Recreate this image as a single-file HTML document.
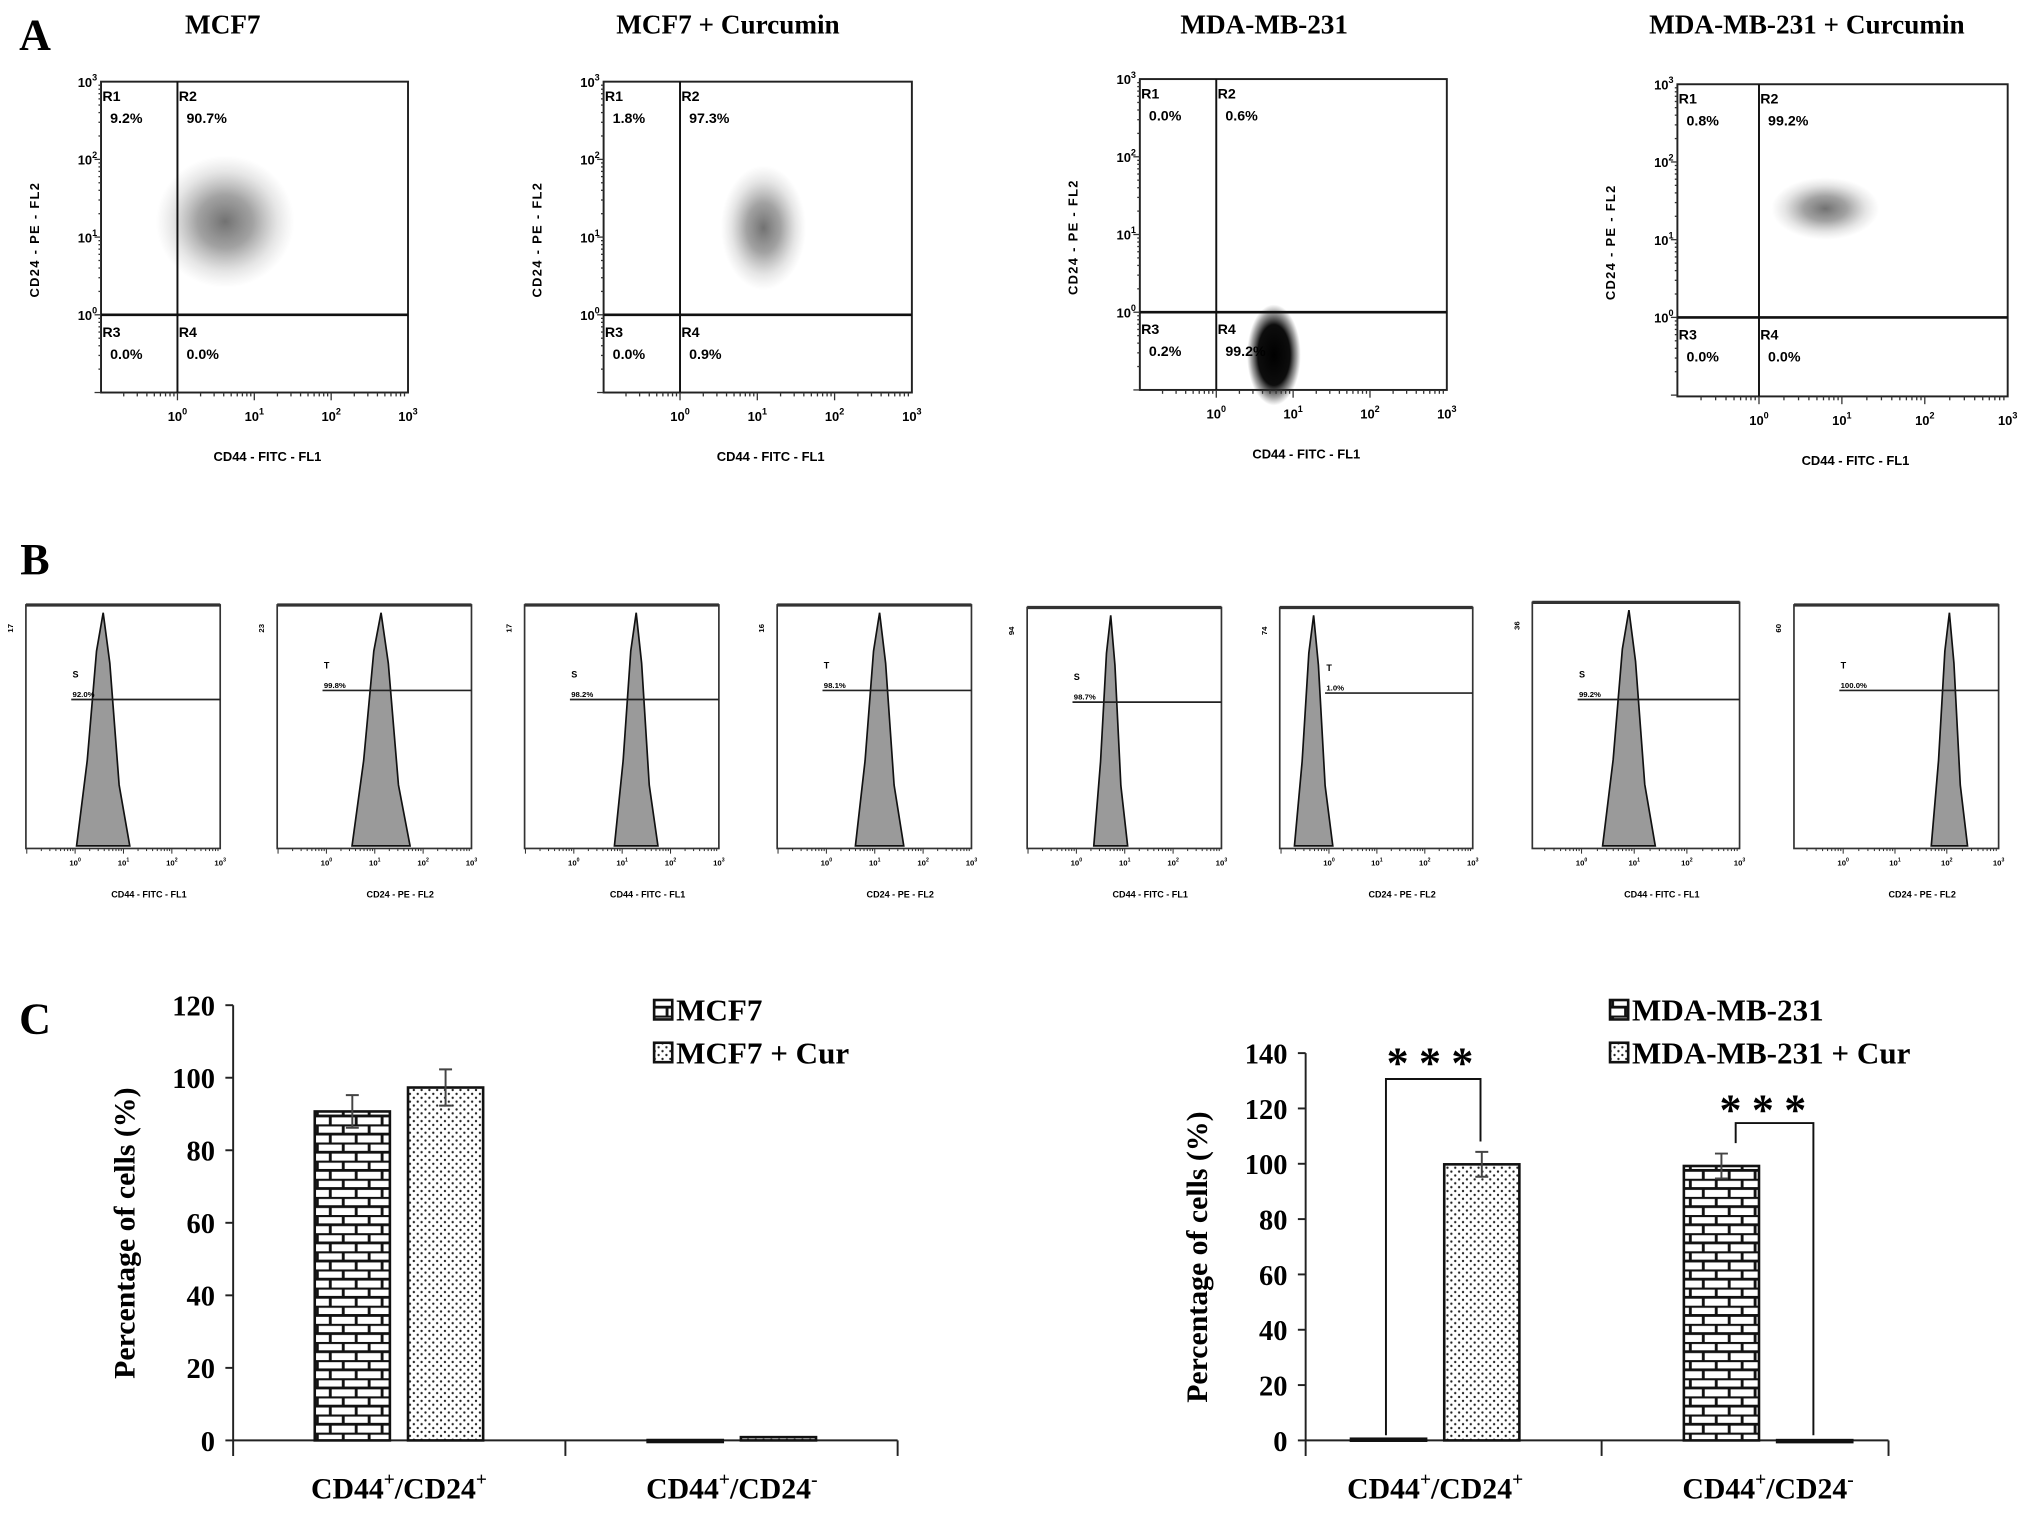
<!DOCTYPE html>
<html><head><meta charset="utf-8"><style>
html,body{margin:0;padding:0;background:#fff}
svg{display:block}
.serif{font-family:"Liberation Serif",serif;font-weight:bold}
.sans{font-family:"Liberation Sans",sans-serif;font-weight:bold}
</style></head><body>
<svg id="fig" width="2031" height="1513" viewBox="0 0 1568 1168" xmlns="http://www.w3.org/2000/svg">
<defs>
<pattern id="brick" width="20" height="14" patternUnits="userSpaceOnUse">
<rect width="20" height="14" fill="#fff"/>
<path d="M0 0.5H20M0 7.5H20M5 0V7M15 7V14" stroke="#111" stroke-width="2.2" fill="none"/>
</pattern>
<pattern id="dots" width="6" height="6" patternUnits="userSpaceOnUse">
<rect width="6" height="6" fill="#fff"/>
<circle cx="1.5" cy="1.5" r="0.9" fill="#222"/><circle cx="4.5" cy="4.5" r="0.9" fill="#222"/>
</pattern>
<pattern id="speck" width="5" height="5" patternUnits="userSpaceOnUse">
<rect width="5" height="5" fill="#fff" fill-opacity="0.35"/>
</pattern>
<radialGradient id="cloud"><stop offset="0" stop-color="#000" stop-opacity="0.85"/><stop offset="0.4" stop-color="#111" stop-opacity="0.6"/><stop offset="0.75" stop-color="#333" stop-opacity="0.2"/><stop offset="1" stop-color="#555" stop-opacity="0"/></radialGradient>
<radialGradient id="cloudDense"><stop offset="0" stop-color="#000" stop-opacity="1"/><stop offset="0.6" stop-color="#000" stop-opacity="0.95"/><stop offset="0.85" stop-color="#222" stop-opacity="0.4"/><stop offset="1" stop-color="#444" stop-opacity="0"/></radialGradient>
</defs>
<g id="root"></g>
</svg>
<script>
// ---------- data ----------
const scatterTitles = ["MCF7","MCF7 + Curcumin","MDA-MB-231","MDA-MB-231 + Curcumin"];
const scatterQuadPct = [["9.2%","90.7%","0.0%","0.0%"],["1.8%","97.3%","0.0%","0.9%"],["0.0%","0.6%","0.2%","99.2%"],["0.8%","99.2%","0.0%","0.0%"]];
const cloudCenterX = [0.62, 1.08, 0.75, 0.8];   // log10 units
const cloudCenterY = [1.2, 1.12, -0.55, 1.4];
const cloudSpreadX = [0.9, 0.55, 0.35, 0.65];
const cloudSpreadY = [0.85, 0.8, 0.65, 0.4];
const histPeak = [0.58, 1.13, 1.29, 1.1, 0.71, -0.32, 0.9, 2.05];
const histWidth = [0.55, 0.6, 0.45, 0.5, 0.35, 0.4, 0.5, 0.35];
const histLabel = ["S","T","S","T","S","T","S","T"];
const histPct = ["92.0%","99.8%","98.2%","98.1%","98.7%","1.0%","99.2%","100.0%"];
const histAxis = ["CD44 - FITC - FL1","CD24 - PE - FL2","CD44 - FITC - FL1","CD24 - PE - FL2","CD44 - FITC - FL1","CD24 - PE - FL2","CD44 - FITC - FL1","CD24 - PE - FL2"];
const histMaxLbl = ["17","23","17","16","94","74","36","60"];
const barCategories = ["CD44+/CD24+","CD44+/CD24-"];
const leftSeriesNames = ["MCF7","MCF7 + Cur"];
const leftUntreated = [90.7, 0.1];
const leftTreated = [97.3, 0.9];
const leftErr = [4.5, 5, 0, 0];
const leftTicks = [0,20,40,60,80,100,120];
const rightSeriesNames = ["MDA-MB-231","MDA-MB-231 + Cur"];
const rightUntreated = [0.6, 99.2];
const rightTreated = [99.8, 0.1];
const rightErr = [0, 4.5, 4.5, 0];
const rightTicks = [0,20,40,60,80,100,120,140];

// ---------- helpers ----------
const NS="http://www.w3.org/2000/svg";
const root=document.getElementById('root');
function el(tag,attrs,parent,text){const e=document.createElementNS(NS,tag);for(const k in attrs)e.setAttribute(k,attrs[k]);if(text!==undefined)e.textContent=text;(parent||root).appendChild(e);return e;}
function grp(name,parent){const g=el('g',{},parent);return g;}

// panel letters
[["A",27,38],["B",27,443],["C",27,798]].forEach(p=>{const t=el('text',{x:p[1],y:p[2],'font-size':34,'text-anchor':'middle',class:'serif'},root,p[0]);

});

// ---------- Panel A ----------
const boxes=[[78,63,237,240],[466,63,238,240],[880,61,237,240],[1295,65,255,241]];
const titleX=[172,562,976,1395];
boxes.forEach((b,i)=>{
 const g=grp('scatter-plot-'+(i+1));
 const [L,T,W,H]=b; const gx=L+(i==3?63:59); const gy=T+180;
 const dec=(L+W-gx)/3; const decY=60;
 const sx=v=>gx+v*dec, sy=v=>gy-v*decY;
 const tt=el('text',{x:titleX[i],y:26,'font-size':21,'text-anchor':'middle',class:'serif'},g,scatterTitles[i]);
 
 
 // cloud
 const c=el('ellipse',{cx:sx(cloudCenterX[i]),cy:sy(cloudCenterY[i]),rx:cloudSpreadX[i]*dec,ry:cloudSpreadY[i]*decY,fill:i==2?'url(#cloudDense)':'url(#cloud)'},g);
 
 
 if(i!=2) el('ellipse',{cx:sx(cloudCenterX[i]),cy:sy(cloudCenterY[i]),rx:cloudSpreadX[i]*dec,ry:cloudSpreadY[i]*decY,fill:'url(#speck)'},g);
 el('rect',{x:L,y:T,width:W,height:H,fill:'none',stroke:'#222','stroke-width':1.5},g);
 el('line',{x1:gx,y1:T,x2:gx,y2:T+H,stroke:'#111','stroke-width':1.5},g);
 el('line',{x1:L,y1:gy,x2:L+W,y2:gy,stroke:'#111','stroke-width':2},g);
 for(let d=-1;d<3;d++)for(let m=1;m<10;m++){const x=sx(d+Math.log10(m));if(x<L)continue;el('line',{x1:x,y1:T+H,x2:x,y2:T+H+(m==1?6:3),stroke:'#333','stroke-width':1},g);}
 for(let d=-2;d<3;d++)for(let m=1;m<10;m++){const y=sy(d+Math.log10(m));if(y>T+H||y<T)continue;el('line',{x1:L,y1:y,x2:L-(m==1?5:2),y2:y,stroke:'#333','stroke-width':1},g);}
 for(let d=0;d<=3;d++){const tx=el('text',{x:sx(d),y:T+H+22,'font-size':10,'text-anchor':'middle',class:'sans'},g,'10');el('tspan',{dy:-5,'font-size':7},tx,String(d));}
 for(let d=0;d<=3;d++){const tx=el('text',{x:L-3,y:sy(d)+4,'font-size':10,'text-anchor':'end',class:'sans'},g,'10');el('tspan',{dy:-5,'font-size':7},tx,String(d));}
 el('text',{x:(L+L+W)/2+10,y:T+H+53,'font-size':10,'text-anchor':'middle',class:'sans'},g,'CD44 - FITC - FL1');
 el('text',{transform:`translate(${L-48},${T+122}) rotate(-90)`,'font-size':10,'text-anchor':'middle',class:'sans','letter-spacing':1},g,'CD24 - PE - FL2');
 const q=scatterQuadPct[i]; const pos=[[L+1,T+15],[gx+1,T+15],[L+1,gy+17],[gx+1,gy+17]];
 q.forEach((p,k)=>{el('text',{x:pos[k][0],y:pos[k][1],'font-size':11,class:'sans'},g,'R'+(k+1));el('text',{x:pos[k][0]+6,y:pos[k][1]+17,'font-size':11,class:'sans'},g,p);});
});

// ---------- Panel B ----------
const hb=[[20,467,150,188],[214,467,150,188],[405,467,150,188],[600,467,150,188],[793,469,150,186],[988,469,149,186],[1183,465,160,190],[1385,467,158,188]];
const gateY=[540,533,540,533,542,535,540,533];
hb.forEach((b,i)=>{
 const g=grp('histogram-'+(i+1));
 const [L,T,W,H]=b; const x0=L+38; const dec=(L+W-x0)/3;
 const sx=v=>x0+v*dec; const base=T+H-2;
 const p=histPeak[i], w=histWidth[i];
 const d=`M${sx(p-w)},${base} L${sx(p-w*0.6)},${base-H*0.35} L${sx(p-w*0.25)},${base-H*0.8} L${sx(p)},${T+6} L${sx(p+w*0.25)},${base-H*0.75} L${sx(p+w*0.6)},${base-H*0.25} L${sx(p+w)},${base} Z`;
 const pk=el('path',{d:d,fill:'#9a9a9a',stroke:'#111','stroke-width':1.3},g);
 
 
 el('rect',{x:L,y:T,width:W,height:H,fill:'none',stroke:'#333','stroke-width':1.3},g);
 el('line',{x1:L,y1:T,x2:L+W,y2:T,stroke:'#333','stroke-width':2.5},g);
 el('line',{x1:L+35,y1:gateY[i],x2:L+W,y2:gateY[i],stroke:'#222','stroke-width':1.3},g);
 el('text',{x:L+36,y:gateY[i]-17,'font-size':7,class:'sans'},g,histLabel[i]);
 el('text',{x:L+36,y:gateY[i]-2,'font-size':6,class:'sans'},g,histPct[i]);
 el('text',{transform:`translate(${L-10},${T+18}) rotate(-90)`,'font-size':6,'text-anchor':'middle',class:'sans'},g,histMaxLbl[i]);
 for(let dd=-1;dd<3;dd++)for(let m=1;m<10;m++){const x=sx(dd+Math.log10(m));if(x<L)continue;el('line',{x1:x,y1:T+H,x2:x,y2:T+H+(m==1?4:2),stroke:'#333','stroke-width':0.8},g);}
 for(let dd=0;dd<=3;dd++){const tx=el('text',{x:sx(dd),y:T+H+13,'font-size':6,'text-anchor':'middle',class:'sans'},g,'10');el('tspan',{dy:-3,'font-size':4},tx,String(dd));}
 el('text',{x:L+W/2+20,y:T+H+38,'font-size':7,'text-anchor':'middle',class:'sans'},g,histAxis[i]);
});

// ---------- Panel C ----------
function barChart(name,ax,y0,yTop,vmax,xEnd,ticks,untreated,treated,err,names,legX,legY,groupCx){
 const g=grp(name);
 const sy=v=>y0-(v/vmax)*(y0-yTop);
 el('line',{x1:ax,y1:yTop,x2:ax,y2:y0+12,stroke:'#222','stroke-width':1.5},g);
 el('line',{x1:ax,y1:y0,x2:xEnd,y2:y0,stroke:'#222','stroke-width':1.5},g);
 ticks.forEach(t=>{el('line',{x1:ax-6,y1:sy(t),x2:ax,y2:sy(t),stroke:'#222','stroke-width':1.5},g);
  const tl=el('text',{x:ax-14,y:sy(t)+8,'font-size':22,'text-anchor':'end',class:'serif'},g,String(t));
  
  });
 const mid=(groupCx[0]+groupCx[1])/2;
 [mid,xEnd].forEach(x=>el('line',{x1:x,y1:y0,x2:x,y2:y0+12,stroke:'#222','stroke-width':1.5},g));
 const yt=el('text',{transform:`translate(${ax-76},${(y0+yTop)/2+8}) rotate(-90)`,'font-size':23,'text-anchor':'middle',class:'serif'},g,'Percentage of cells (%)');
 
 
 const bw=58;
 barCategories.forEach((c,k)=>{
  const cx=groupCx[k];
  [[untreated[k],'url(#brick)',cx-bw-7,err[k*2]],[treated[k],'url(#dots)',cx+7,err[k*2+1]]].forEach((s,j)=>{
   const r=el('rect',{x:s[2],y:sy(s[0]),width:bw,height:Math.max(1.5,y0-sy(s[0])),fill:s[1],stroke:'#111','stroke-width':2},g);
   
   
   if(s[3]>0){const ex=s[2]+bw/2;el('path',{d:`M${ex},${sy(s[0]+s[3])}V${sy(s[0]-s[3])}M${ex-5},${sy(s[0]+s[3])}H${ex+5}M${ex-5},${sy(s[0]-s[3])}H${ex+5}`,stroke:'#444','stroke-width':1.5,fill:'none'},g);}
  });
  const lab=el('text',{x:cx,y:y0+45,'font-size':23,'text-anchor':'middle',class:'serif'},g);
  
  
  const sign=c.endsWith('+')?'+':'-';
  lab.appendChild(document.createTextNode('CD44'));el('tspan',{dy:-10,'font-size':15},lab,'+');
  el('tspan',{dy:10},lab,'/CD24');el('tspan',{dy:-10,'font-size':15},lab,sign);
 });
 names.forEach((n,j)=>{const ly=legY+j*33;
  el('rect',{x:legX,y:ly-15,width:14,height:15,fill:j?'url(#dots)':'url(#brick)',stroke:'#111','stroke-width':2},g);
  const lt=el('text',{x:legX+17,y:ly+1,'font-size':24,class:'serif'},g,n);
  
  });
 return sy;
}
barChart('bar-chart-mcf7',180,1112,776,120,693,leftTicks,leftUntreated,leftTreated,leftErr,leftSeriesNames,505,787,[308,565]);
const sy2=barChart('bar-chart-mda',1008,1112,813,140,1458,rightTicks,rightUntreated,rightTreated,rightErr,rightSeriesNames,1243,787,[1108,1365]);
// significance brackets
const sg=grp('significance-brackets');
el('path',{d:`M1070,1108V833H1143V${sy2(rightTreated[0]+rightErr[1])-8}`,stroke:'#111','stroke-width':1.5,fill:'none'},sg);
el('path',{d:`M1340,${sy2(rightUntreated[1]+rightErr[2])-8}V867H1400V1108`,stroke:'#111','stroke-width':1.5,fill:'none'},sg);
el('text',{x:1108,y:832,'font-size':34,'text-anchor':'middle',class:'serif','letter-spacing':8},sg,'***');
el('text',{x:1365,y:868,'font-size':34,'text-anchor':'middle',class:'serif','letter-spacing':8},sg,'***');
</script>
</body></html>
